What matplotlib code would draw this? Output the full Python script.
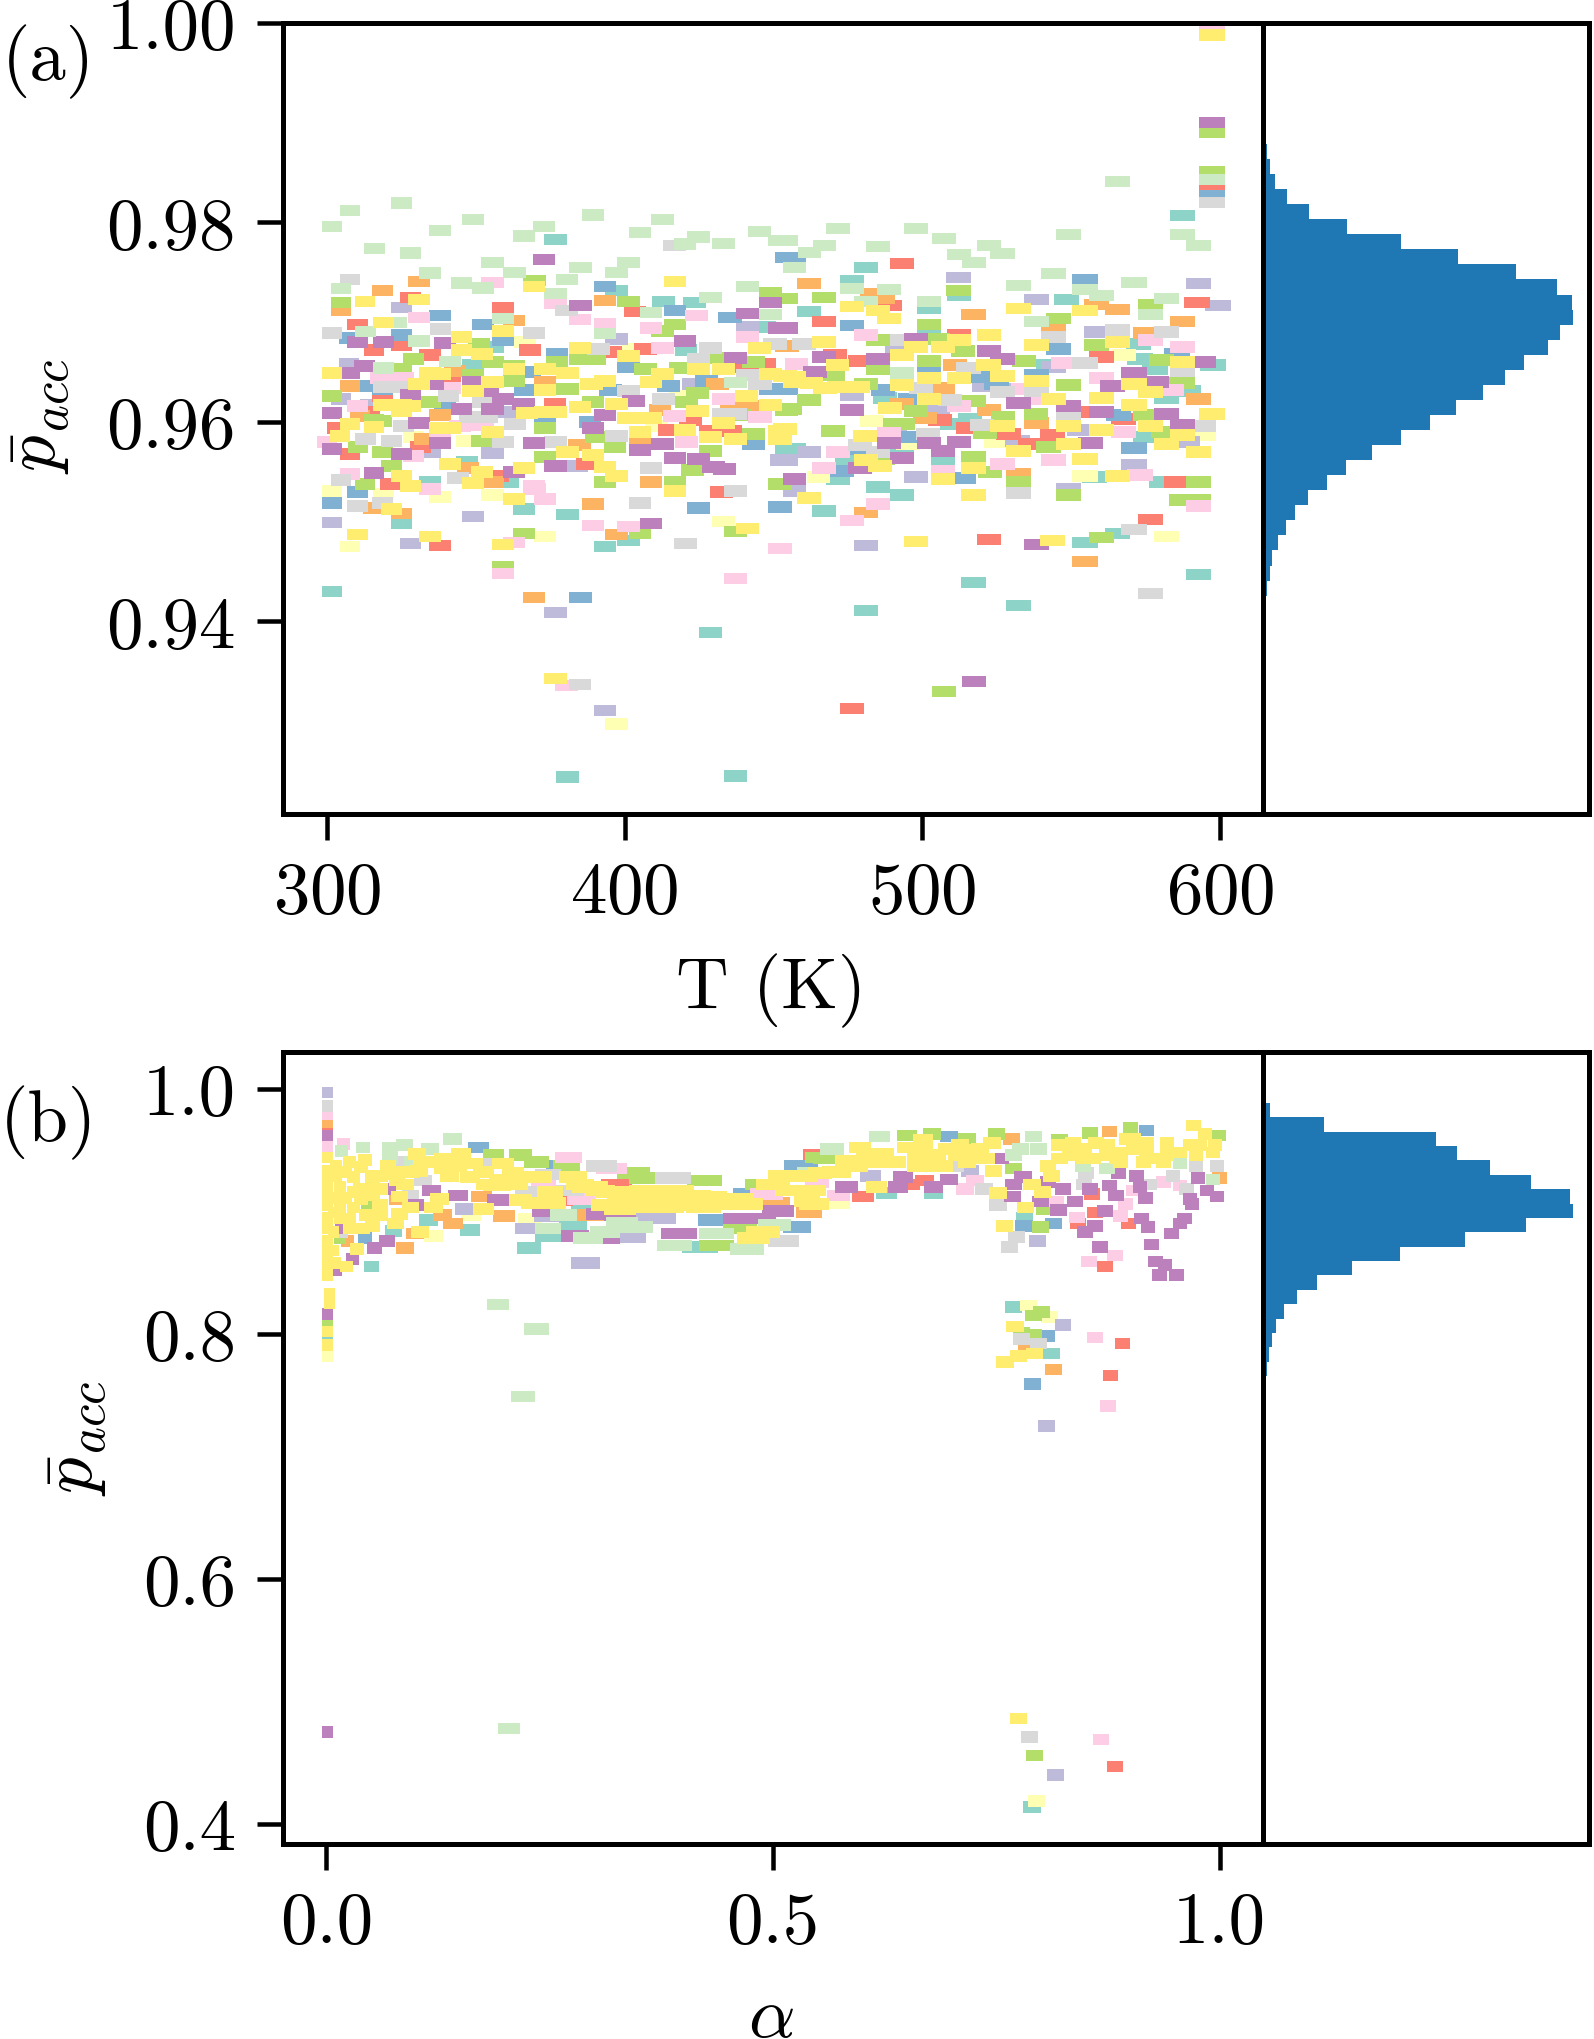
import matplotlib

matplotlib.use("Agg")
import matplotlib.pyplot as plt
import numpy as np

plt.rcParams["font.family"] = ["cmr10", "DejaVu Sans"]
plt.rcParams["mathtext.fontset"] = "cm"
plt.rcParams["axes.unicode_minus"] = False
plt.rcParams["axes.formatter.use_mathtext"] = True

SET3 = ["#8dd3c7", "#ffffb3", "#bebada", "#fb8072", "#80b1d3", "#fdb462",
        "#b3de69", "#fccde5", "#d9d9d9", "#bc80bd", "#ccebc5", "#ffed6f"]

# panel (a): temperature vs mean acceptance, one pair of lists per colour
t_teal = [376.8,397.3,413,423.6,355.7,420.6,349.2,446.8,454.5,347,334.6,360.9,481,476.3,587.4,462,502.4,512.3,548.5,502.4,572.6,573.2,578.2,597.8,542.4,509.9,516,582.1,589.4,487.5,575.1,457.1,507.1,493.1,474.6,558,580.4,471.6,301.6,380.8,437.3,429,380.8,366.2,325.1,393.4,401.2,485,493.1,467,565.7,554.7,592.8,517.2,532.3,481]
p_teal = [.9783,.9732,.9721,.9720,.9675,.9672,.9657,.9695,.9571,.9560,.9540,.9540,.9755,.9742,.9807,.9711,.9714,.9727,.9723,.9690,.9678,.9663,.9653,.9657,.9657,.9598,.9603,.9624,.9631,.9624,.9585,.9573,.9560,.9571,.9563,.9545,.9540,.9543,.9430,.9244,.9245,.9389,.9507,.9513,.9498,.9475,.9481,.9535,.9527,.9511,.9488,.9479,.9447,.9439,.9416,.9411]
t_lyellow = [347,418.6,329,366.5,402.9,410.8,525,554.7,594.4,567.6,483.2,465.1,301.6,318.9,338,355.6,433.2,373.2,307.7,397.3,582.1,495.3]
p_lyellow = [.9581,.9626,.9585,.9680,.9673,.9596,.9580,.9546,.9587,.9667,.9601,.9545,.9531,.9528,.9525,.9527,.9500,.9485,.9475,.9297,.9485,.9578]
t_lav = [324.9,307.5,397.3,441.3,452.8,360.9,355.6,383.9,304.6,423.1,334.6,314.5,512.2,538.4,592.8,599.3,558.6,491.4,520.7,544,530.6,505.4,476.3,462,454.2,532,553,589.1,497.8,571.1,490.8,301.6,349.2,327.9,376.8,393.4,481,549.1,457.1]
p_lav = [.9715,.9658,.9683,.9695,.9562,.9610,.9569,.9556,.9623,.9638,.9570,.9617,.9745,.9723,.9739,.9717,.9690,.9675,.9636,.9655,.9633,.9613,.9627,.9570,.9562,.9581,.9592,.9580,.9545,.9557,.9591,.9499,.9505,.9478,.9409,.9311,.9476,.9533,.9531]
t_red = [359.2,310.2,327.9,403.5,315.8,324.9,334.6,368.2,395.4,406.9,446.9,441,318.6,376.6,341.3,415.2,422.2,428.7,435.4,331.3,307.7,303.3,387.3,357.3,321.4,314.5,493.2,597.5,467,489.2,592.2,470.7,479.1,560.3,506,515.5,543.7,536.2,567.6,555.2,512.3,528.9,585.5,338,432.6,576.7,522.4,476.3]
p_red = [.9715,.9698,.9725,.9711,.9672,.9677,.9667,.9672,.9670,.9673,.9658,.9655,.9626,.9618,.9640,.9592,.9602,.9591,.9591,.9575,.9568,.9594,.9558,.9546,.9538,.9610,.9759,.9833,.9701,.9717,.9720,.9667,.9661,.9665,.9602,.9594,.9587,.9578,.9603,.9610,.9687,.9588,.9540,.9476,.9530,.9502,.9482,.9313]
t_blue = [338,352.3,393.4,416.9,435.4,324.9,307.5,359.2,377.2,401.2,368.2,318.6,366.5,395.3,414.7,427.6,448.9,454.5,339.6,388.4,373.2,443.2,457.1,554.7,476.3,545.7,502.4,519.4,538.4,473.1,486.9,495.9,454.4,495.5,565.9,571.1,525,514.1,585.5,479.1,597.5,301.6,310.2,385.1,424.8,452.2,312.2]
p_blue = [.9707,.9698,.9736,.9712,.9705,.9687,.9684,.9682,.9668,.9655,.9650,.9633,.9632,.9632,.9636,.9641,.9633,.9765,.9616,.9600,.9601,.9578,.9765,.9743,.9697,.9673,.9652,.9645,.9647,.9551,.9632,.9623,.9633,.9585,.9607,.9574,.9638,.9544,.9668,.9573,.9827,.9519,.9530,.9424,.9514,.9515,.9636]
t_orange = [330.9,318.7,393.4,362.8,304.6,307.7,343,373.2,338,431.2,411.9,436,443.3,332.7,384.8,405.2,454.5,347.5,408.9,355.7,462,483.2,486.9,517.2,558.6,565.7,587.4,544,575,454.7,511,507.1,522.4,592.8,538.4,500.9,493.1,532.3,315.6,325.1,389.4,397.3,369.6,481,554.7,311.1]
p_orange = [.9741,.9732,.9722,.9702,.9712,.9636,.9651,.9640,.9607,.9638,.9612,.9617,.9616,.9583,.9577,.9581,.9676,.9554,.9540,.9540,.9739,.9729,.9724,.9708,.9718,.9713,.9701,.9692,.9689,.9676,.9657,.9634,.9612,.9623,.9599,.9604,.9618,.9548,.9514,.9508,.9518,.9487,.9424,.9509,.9460,.9606]
t_green = [304.6,369.7,401.2,448.9,416.9,412.8,329,350.9,355.7,362.9,377.2,385,390.1,349.2,362.9,380.8,418.6,406.9,424.4,431.5,443.3,334.6,301.6,325.1,315.8,318.4,373.2,389.3,310.3,318.7,396.8,373.2,429,422.9,312.8,393.4,416.9,321.7,452.2,352.2,438.8,443.3,390.6,454.5,597.5,512.2,467,454.4,576.7,545.7,502.4,485,505.4,513.8,502.4,534.2,485,470.1,481.1,549.1,558.6,580.4,587.2,538.2,490.8,497.8,462,455.6,517.2,470.1,527.2,521.1,575.1,542.4,581,517.2,522.8,532.3,592.8,486.9,359.2,366.2,405.2,437.1,549.1,587.2,592.8,507.3,560.3,597.5,420.9,493.6]
p_green = [.9720,.9742,.9721,.9730,.9698,.9691,.9663,.9678,.9660,.9656,.9660,.9663,.9663,.9647,.9641,.9633,.9654,.9653,.9629,.9664,.9660,.9620,.9626,.9653,.9602,.9601,.9594,.9620,.9575,.9570,.9575,.9565,.9571,.9552,.9538,.9540,.9540,.9556,.9538,.9581,.9607,.9588,.9585,.9612,.9851,.9732,.9725,.9724,.9718,.9704,.9698,.9682,.9683,.9671,.9661,.9661,.9653,.9647,.9638,.9637,.9677,.9662,.9639,.9608,.9598,.9611,.9622,.9613,.9621,.9591,.9605,.9589,.9607,.9575,.9590,.9565,.9550,.9540,.9540,.9563,.9455,.9488,.9488,.9490,.9527,.9522,.9522,.9330,.9484,.9890,.9620,.9598]
t_pink = [355.6,330.9,376.8,385,393.4,408.9,412.8,424.2,441.3,321.7,317.8,325.6,341.3,433.2,416.7,445.5,310.2,348.6,307.7,369.6,420.8,338,299.9,329,481.1,576.7,587.4,547.4,560.1,457.8,534,512.3,538.2,583.8,488.8,567.6,471.6,527,544,467,573.2,507.1,334.6,369.7,373.2,389.4,401.2,359.2,362.9,437.3,452.2,380.5,485,592.8,476.3,597.5,344.7,352.5]
p_pink = [.9740,.9705,.9719,.9703,.9699,.9694,.9674,.9707,.9685,.9644,.9644,.9644,.9634,.9623,.9606,.9605,.9616,.9597,.9548,.9536,.9580,.9586,.9580,.9566,.9687,.9682,.9675,.9659,.9644,.9658,.9633,.9616,.9623,.9632,.9589,.9590,.9570,.9558,.9562,.9554,.9547,.9551,.9533,.9533,.9523,.9496,.9495,.9448,.9479,.9443,.9473,.9336,.9518,.9516,.9501,.9995,.9596,.9598]
t_grey = [307.6,301.6,338.1,369.6,380.5,416.7,429,450.5,391.2,424.8,441.3,445.5,340.8,413,433.2,437.4,363.2,397.3,321.7,313,359.2,376.8,408.9,304.6,344.1,352.5,318.9,324.5,401.2,597.5,544,565.7,582.1,460.3,493.1,515.5,554.7,587.4,538.4,527,509.3,499.6,549.1,520,594.4,479.1,485.2,502,310.2,318.7,405.2,420.5,385,437.3,532.3,571.1,576.7,348,353.6,325.6]
p_grey = [.9743,.9689,.9693,.9689,.9712,.9777,.9674,.9678,.9673,.9663,.9647,.9638,.9626,.9623,.9608,.9608,.9598,.9586,.9581,.9583,.9580,.9580,.9554,.9542,.9544,.9620,.9635,.9635,.9631,.9820,.9685,.9692,.9690,.9678,.9682,.9654,.9659,.9651,.9631,.9630,.9622,.9634,.9606,.9597,.9596,.9577,.9570,.9588,.9516,.9519,.9519,.9478,.9337,.9531,.9529,.9492,.9428,.9605,.9605,.9596]
t_purple = [373,385.1,310.2,318.9,420.3,437.3,448.9,441.2,452.2,339.6,312.6,307.7,327.9,301.6,330.9,338,301.6,325.1,345.2,355.6,359.2,366,389.3,393.4,402.9,369.6,412.8,405.2,416.9,424.8,376.8,429.8,433.7,315.8,362.8,335.7,354.2,349,454.4,467,485,497.8,522.4,527,571.1,563.9,578.5,464,532.3,476.3,549.1,560.1,582.1,587.4,594.4,556.4,488.8,493.1,502.4,512.3,507.1,479.1,457.1,408.9,538.4,517.3,597.5]
p_purple = [.9763,.9717,.9680,.9680,.9681,.9664,.9720,.9709,.9694,.9679,.9656,.9649,.9627,.9609,.9599,.9579,.9573,.9568,.9613,.9613,.9623,.9618,.9594,.9607,.9621,.9579,.9578,.9572,.9564,.9563,.9556,.9555,.9553,.9549,.9550,.9638,.9631,.9640,.9694,.9665,.9663,.9683,.9671,.9663,.9649,.9636,.9640,.9650,.9619,.9612,.9616,.9610,.9608,.9597,.9660,.9579,.9579,.9564,.9579,.9580,.9571,.9554,.9543,.9498,.9477,.9340,.9900]
t_lgreen = [325.1,307.6,301.6,349.2,338,315.9,327.9,389.4,412.8,405.2,373,366.3,424.8,420.3,433.2,445.2,452.2,355.6,363,334.6,345.2,352.3,380.7,385.1,401.2,397.3,304.6,376.8,441.3,429,408.9,448.9,330.9,313,393.4,341.3,318.9,359.2,437.4,323.4,471.6,497.8,507.3,454.4,467.1,462.1,485,522.4,527,512.3,517.4,565.7,597.5,587.4,592.8,549.1,457.1,476.3,488.8,481.1,502.4,532.3,544,554.7,560.3,571.1,582.1,576.7,538.4,493.1]
p_lgreen = [.98196,.98122,.97958,.98032,.97922,.97741,.97694,.98075,.98032,.97898,.97962,.97865,.97855,.97785,.97788,.97908,.97821,.97601,.97500,.97494,.97393,.97343,.97427,.97547,.97601,.97497,.97337,.97287,.97360,.97246,.97099,.97079,.96812,.96906,.96886,.96608,.96541,.97039,.96398,.96996,.9794,.9794,.9784,.9782,.9777,.9770,.9776,.9777,.9769,.9768,.9760,.9841,.9843,.9788,.9777,.9788,.9755,.9734,.9733,.9721,.9721,.9737,.9749,.9733,.9727,.9740,.9724,.9708,.9701,.9649]
t_yellow = [416.9,369.6,312.8,330.9,318.9,359,345.2,385,401.2,345.2,352.2,445.2,301.6,362.9,334.6,338,373.2,380.8,424.8,433.2,448.9,412.8,408.9,330.9,355.6,349.2,373.2,393.4,388.9,318.9,325.1,327.9,324.9,441,448.9,385,397.3,424.5,367.1,373.2,376.9,401.2,405.2,408.9,433.2,307.7,315.8,338,341.3,355.6,304.4,405.2,420.3,428.7,437.1,452.2,452.2,380.8,389.3,341.3,324.9,352.2,366.2,393.4,397.3,349.2,327.9,476.3,485,488.8,532.3,554.7,467,522.4,512.3,507.1,497.8,493.1,538.4,565.7,522.2,471.5,587.4,527,538.4,502.4,512.3,493.3,457.1,462.8,467.3,471.8,478.5,571.1,576.7,502.4,544,560.3,571.1,597.5,489.2,453.9,480.8,576.7,527,549.1,560.3,587.4,549.1,532.3,582.1,592.8,481.1,485.8,554.7,517.2,507.1,565.7,321.7,310.2,334.6,359.2,362.9,441.3,376.8,327.9,416.9,462,517.2,497.8,543.8,597.5,453.9,457.1]
p_yellow = [.9741,.9736,.9721,.9723,.9700,.9691,.9685,.9674,.9666,.9672,.9668,.9674,.9649,.9653,.9649,.9648,.9653,.9649,.9653,.9653,.9648,.9648,.9640,.9638,.9640,.9631,.9632,.9641,.9638,.9617,.9617,.9616,.9611,.9626,.9617,.9615,.9618,.9611,.9609,.9610,.9610,.9604,.9604,.9604,.9599,.9598,.9595,.9594,.9594,.9590,.9586,.9590,.9592,.9585,.9583,.9591,.9583,.9570,.9567,.9558,.9546,.9550,.9554,.9555,.9546,.9539,.9536,.9716,.9712,.9704,.9714,.9712,.9680,.9687,.9682,.9675,.9675,.9667,.9677,.9680,.9657,.9657,.9660,.9646,.9641,.9644,.9644,.9637,.9645,.9639,.9634,.9635,.9635,.9638,.9630,.9623,.9623,.9624,.9617,.9608,.9614,.9593,.9586,.9596,.9596,.9596,.9592,.9587,.9578,.9571,.9578,.9570,.9562,.9556,.9563,.9554,.9543,.9546,.9513,.9487,.9485,.9477,.9523,.9493,.9343,.9536,.9531,.9524,.9527,.9480,.9481,.9988,.9646,.9640]

# panel (b): alpha vs mean acceptance
a_teal = [.001,.161,.227,.050,.114,.276,.248,.418,.290,.075,.782,.627,.680,.769,.812,.790]
q_teal = [.796,.885,.870,.855,.893,.888,.880,.871,.903,.884,.895,.915,.915,.822,.784,.414]
a_lyellow = [.001,.162,.120,.228,.573,.786,.810,.795]
q_lyellow = [.782,.897,.880,.894,.907,.823,.814,.419]
a_lav = [.001,.155,.247,.224,.290,.372,.340,.344,.796,.609,.721,.825,.806,.816]
q_lav = [.997,.902,.896,.886,.858,.894,.879,.897,.876,.929,.933,.807,.725,.440]
a_red = [.001,.325,.261,.547,.601,.670,.653,.861,.898,.842,.857,.872,.549,.891,.878,.883]
q_red = [.967,.922,.909,.946,.912,.925,.922,.899,.890,.890,.914,.855,.946,.792,.766,.447]
a_blue = [.170,.261,.474,.528,.436,.527,.043,.697,.814,.781,.536,.918,.806,.791]
q_blue = [.952,.937,.914,.937,.893,.887,.878,.961,.890,.888,.937,.966,.798,.759]
a_orange = [.001,.174,.130,.142,.199,.088,.297,.024,.079,.500,.540,.099,.541,.767,.877,.814,.784,1.0]
q_orange = [.973,.912,.897,.890,.896,.870,.897,.876,.910,.907,.899,.882,.899,.959,.965,.771,.790,.927]
a_green = [.001,.187,.217,.235,.269,.344,.358,.423,.015,.047,.398,.463,.437,.487,.549,.558,.678,.750,.717,.650,.769,.855,.900,.999,.804,.799,.821,.801,.792,.778,.792,.793]
q_green = [.809,.946,.946,.940,.937,.931,.927,.925,.878,.907,.912,.886,.872,.922,.944,.943,.963,.963,.959,.962,.935,.964,.968,.962,.902,.887,.958,.818,.815,.801,.799,.456]
a_pink = [.001,.001,.019,.271,.286,.319,.493,.243,.549,.726,.715,.573,.816,.840,.895,.889,.937,.956,.883,.854,.904,.861,.875,.867]
q_pink = [.979,.953,.955,.944,.910,.935,.914,.924,.924,.925,.918,.913,.908,.895,.906,.896,.924,.921,.864,.859,.917,.797,.741,.469]
a_grey = [.001,.108,.308,.388,.248,.181,.079,.512,.017,.273,.094,.224,.704,.736,.851,.948,.974,.997,.752,.773,.765,.848,.922,.963,.778,.797,.787]
q_grey = [.986,.925,.937,.927,.930,.939,.940,.876,.883,.917,.913,.916,.937,.918,.931,.929,.937,.937,.905,.879,.871,.922,.922,.918,.796,.792,.471]
a_purple = [.001,.001,.118,.147,.069,.192,.244,.308,.506,.463,.068,.054,.029,.395,.278,.011,.329,.017,.099,.312,.485,.646,.640,.582,.680,.697,.754,.769,.780,.808,.768,.825,.799,.838,.820,.855,.872,.877,.884,.907,.911,.917,.976,.986,.997,.969,.967,.961,.956,.946,.913,.920,.861,.849,.866,.924,.928,.939,.933,.952,.887,.001]
q_purple = [.962,.816,.917,.913,.918,.909,.900,.898,.900,.894,.876,.870,.861,.882,.880,.852,.897,.886,.905,.878,.894,.928,.920,.920,.920,.926,.943,.922,.928,.924,.912,.918,.908,.908,.901,.918,.900,.921,.913,.929,.920,.911,.927,.917,.912,.906,.910,.894,.890,.882,.894,.887,.888,.883,.871,.873,.859,.856,.848,.848,.931,.475]
a_lgreen = [.141,.087,.116,.041,.071,.017,.019,.097,.071,.265,.248,.312,.347,.331,.293,.437,.390,.471,.502,.541,.192,.235,.220,.075,.619,.566,.792,.874,.956,.993,.769,.777,.797,.847,.204]
q_lgreen = [.959,.954,.951,.952,.952,.949,.932,.940,.943,.897,.886,.883,.887,.891,.878,.882,.872,.869,.889,.931,.824,.804,.749,.931,.961,.951,.961,.935,.939,.926,.946,.951,.951,.937,.478]
a_yellow = [.001,.001,.001,.001,.001,.001,.001,.001,.001,.001,.001,.003,.003,.001,.001,.101,.151,.164,.198,.043,.026,.069,.120,.094,.131,.030,.051,.079,.138,.161,.194,.224,.276,.015,.038,.060,.088,.250,.299,.194,.127,.318,.358,.392,.444,.418,.344,.373,.329,.400,.452,.470,.232,.187,.217,.291,.120,.094,.060,.030,.060,.082,.015,.015,.041,.077,.176,.105,.034,.022,.008,.512,.530,.500,.519,.545,.543,.489,.478,.332,.971,.984,.896,.668,.597,.745,.836,.862,.904,.941,.978,.624,.582,.995,.650,.695,.721,.833,.859,.885,.926,.956,.612,.568,.638,.680,.728,.808,.915,.889,.812,.747,.536,.616,.545,.790,.802,.752,.549,.783,.759,.771,.793,.775,.760,.775]
q_yellow = [.944,.933,.924,.914,.905,.895,.886,.876,.867,.857,.848,.833,.825,.802,.791,.947,.947,.939,.939,.942,.940,.937,.940,.932,.935,.928,.929,.925,.929,.928,.926,.928,.928,.920,.918,.918,.922,.916,.920,.921,.910,.916,.917,.917,.910,.907,.905,.905,.902,.905,.906,.906,.907,.921,.909,.920,.903,.903,.905,.903,.897,.898,.902,.894,.886,.890,.902,.883,.869,.855,.868,.929,.929,.922,.917,.917,.906,.883,.878,.909,.970,.963,.959,.958,.952,.956,.956,.956,.951,.956,.954,.947,.941,.954,.952,.951,.950,.946,.943,.943,.943,.948,.940,.932,.940,.937,.943,.937,.940,.948,.929,.933,.929,.920,.917,.922,.916,.915,.906,.903,.888,.806,.784,.782,.777,.486]
# rest of the solid yellow band
a_band = [.011,.011,.011,.021,.021,.030,.039,.039,.051,.051,.060,.069,.082,.082,.103,.107,.131,.146,.176,.209,.179,.213,.239,.254,.284,.306,.329,.344,.366,.381,.366,.411,.429,.459,.422,.381,.355,.314,.026,.045,.026,.052,.008,.008,.010,.821,.848,.874,.918,.918,.941,.967,.974,.993,.904,.874,.848,.821,.889,.937,.605,.627,.661,.668,.683,.706,.709,.732,.739,.594,.553,.661,.575,.691,.717,.541,.538]
q_band = [.937,.929,.911,.932,.911,.916,.936,.910,.921,.913,.929,.930,.912,.932,.933,.940,.943,.937,.932,.931,.922,.922,.928,.907,.922,.917,.916,.913,.913,.910,.909,.913,.912,.910,.903,.903,.903,.905,.894,.897,.886,.888,.883,.899,.858,.954,.951,.954,.956,.947,.946,.954,.946,.948,.959,.946,.943,.943,.940,.940,.947,.940,.946,.951,.946,.946,.954,.951,.943,.937,.931,.937,.932,.937,.940,.917,.908]

# histogram counts, top bin to bottom bin
hist_a_counts = [11,21,37,72,139,253,414,586,762,883,929,934,893,857,785,728,661,581,501,415,328,251,193,136,97,70,44,27,20,13]
hist_b_counts = [21,185,520,585,683,806,924,934,790,608,412,269,161,102,63,39,27,19,13,9]
hist_a_range = (0.94259, 0.98787)
hist_b_range = (0.7537, 0.98857)

t_ticks = [300, 400, 500, 600]
a_ticks = [0.0, 0.5, 1.0]
pa_ticks = [0.94, 0.96, 0.98, 1.00]
pb_ticks = [0.4, 0.6, 0.8, 1.0]

# cell widths change along x
t_knots = [300, 350, 450, 600]
t_widths = [6.7, 7.4, 7.8, 8.7]
a_knots = [0, .05, .1, .2, .3, .4, .5, .55, .6, .7, .8, .9, 1.0]
a_widths = [.0123, .0168, .0202, .0246, .0336, .0403, .037, .0269, .0246, .0202, .019, .0168, .0157]

W, H = 1594, 2040
LW = 3.6
FS = 52.5


def add_axes(fig, x0, x1, y_top, y_bot):
    return fig.add_axes([x0 / W, 1 - y_bot / H, (x1 - x0) / W, (y_bot - y_top) / H])


def draw_cells(ax, series, knots, widths, height):
    for color, (xs, ys) in zip(SET3, series):
        xs = np.array(xs)
        ys = np.array(ys)
        ax.bar(xs, height, width=np.interp(xs, knots, widths), bottom=ys - height / 2,
               color=color, linewidth=0)


def style_axis(ax):
    for s in ax.spines.values():
        s.set_linewidth(LW)
    ax.tick_params(length=19, width=LW * 0.9, labelsize=FS, pad=15)


def draw_hist(ax, counts, rng, ylim):
    edges = np.linspace(rng[0], rng[1], len(counts) + 1)
    ax.stairs(counts[::-1], edges, orientation="horizontal", fill=True, color="#1f77b4")
    ax.set_ylim(*ylim)
    ax.set_xlim(0, max(counts) * 1.05)
    ax.set_xticks([])
    ax.set_yticks([])
    for s in ax.spines.values():
        s.set_linewidth(LW)


fig = plt.figure(figsize=(W / 100, H / 100), dpi=100)

ax1 = add_axes(fig, 283, 1263, 24, 815)
side1 = add_axes(fig, 1263, 1589, 24, 815)
ylim1 = (0.9207, 1.0)
draw_cells(ax1, [(t_teal, p_teal), (t_lyellow, p_lyellow), (t_lav, p_lav), (t_red, p_red),
                 (t_blue, p_blue), (t_orange, p_orange), (t_green, p_green), (t_pink, p_pink),
                 (t_grey, p_grey), (t_purple, p_purple), (t_lgreen, p_lgreen), (t_yellow, p_yellow)],
           t_knots, t_widths, 0.00115)
ax1.set_xlim(285.2, 614.5)
ax1.set_ylim(*ylim1)
ax1.set_xticks(t_ticks)
ax1.set_yticks(pa_ticks, ["0.94", "0.96", "0.98", "1.00"])
style_axis(ax1)
draw_hist(side1, hist_a_counts, hist_a_range, ylim1)

ax2 = add_axes(fig, 283, 1263, 1053, 1845)
side2 = add_axes(fig, 1263, 1589, 1053, 1845)
ylim2 = (0.3837, 1.030)
draw_cells(ax2, [(a_teal, q_teal), (a_lyellow, q_lyellow), (a_lav, q_lav), (a_red, q_red),
                 (a_blue, q_blue), (a_orange, q_orange), (a_green, q_green), (a_pink, q_pink),
                 (a_grey, q_grey), (a_purple, q_purple), (a_lgreen, q_lgreen),
                 (a_yellow + a_band, q_yellow + q_band)],
           a_knots, a_widths, 0.0095)
ax2.set_xlim(-0.0487, 1.0487)
ax2.set_ylim(*ylim2)
ax2.set_xticks(a_ticks, ["0.0", "0.5", "1.0"])
ax2.set_yticks(pb_ticks, ["0.4", "0.6", "0.8", "1.0"])
style_axis(ax2)
draw_hist(side2, hist_b_counts, hist_b_range, ylim2)

fig.text(771 / W, 1 - 991 / H, "T (K)", fontsize=FS, ha="center", va="center")
fig.text(771 / W, 1 - 2019 / H, r"$\alpha$", fontsize=FS, ha="center", va="center")
fig.text(40 / W, 1 - 416 / H, r"$\bar{p}_{acc}$", fontsize=FS, rotation=90, ha="center", va="center")
fig.text(77 / W, 1 - 1438 / H, r"$\bar{p}_{acc}$", fontsize=FS, rotation=90, ha="center", va="center")
fig.text(2 / W, 1 - 62 / H, "(a)", fontsize=FS, ha="left", va="center")
fig.text(0, 1 - 1123 / H, "(b)", fontsize=FS, ha="left", va="center")

fig.savefig("out.png", dpi=100)
